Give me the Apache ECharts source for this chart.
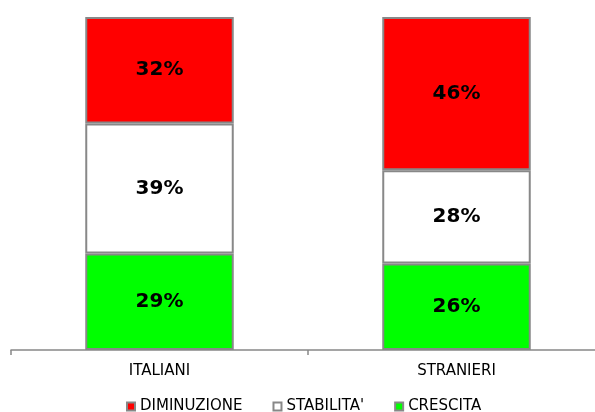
<!DOCTYPE html>
<html>
<head>
<meta charset="utf-8">
<script src="https://cdn.jsdelivr.net/npm/echarts@6/dist/echarts.min.js"></script>
<style>
html,body{margin:0;padding:0;background:#fff;overflow:hidden;width:595px;height:412px;}
#chart{width:606px;height:412px;}
</style>
</head>
<body>
<div id="chart"></div>
<script>
const categories = ['ITALIANI', 'STRANIERI'];
const seriesNames = ['CRESCITA', "STABILITA'", 'DIMINUZIONE'];
const crescita = [29, 26];
const stabilita = [39, 28];
const diminuzione = [32, 46];
const legendOrder = ['DIMINUZIONE', "STABILITA'", 'CRESCITA'];

const colors = {'CRESCITA': '#00FF00', "STABILITA'": '#FFFFFF', 'DIMINUZIONE': '#FF0000'};
const values = {'CRESCITA': crescita, "STABILITA'": stabilita, 'DIMINUZIONE': diminuzione};

const chart = echarts.init(document.getElementById('chart'), null, {renderer: 'canvas'});
chart.setOption({
  animation: false,
  backgroundColor: '#fff',
  grid: {left: 11, right: 1, top: 17, bottom: 62, containLabel: false},
  legend: {
    data: legendOrder,
    left: 126,
    top: 399,
    padding: 0,
    itemWidth: 8,
    itemHeight: 8,
    itemGap: 30,
    icon: 'rect',
    textStyle: {fontFamily: 'DejaVu Sans', fontSize: 15, color: '#000'}
  },
  xAxis: {
    type: 'category',
    data: categories,
    axisLine: {lineStyle: {color: '#888', width: 1.5}},
    axisTick: {show: true, length: 5, lineStyle: {color: '#888', width: 1.5}},
    axisLabel: {fontFamily: 'DejaVu Sans', fontSize: 15, color: '#000', margin: 14}
  },
  yAxis: {type: 'value', min: 0, max: 100, show: false, splitLine: {show: false}},
  series: seriesNames.map(name => ({
    name: name,
    type: 'bar',
    stack: 'total',
    barWidth: '50%',
    data: values[name],
    itemStyle: {color: colors[name], borderColor: '#888', borderWidth: 2},
    label: {
      show: true,
      position: 'inside',
      formatter: '{c}%',
      fontFamily: 'DejaVu Sans',
      fontWeight: 'bold',
      fontSize: 20,
      color: '#000'
    }
  }))
});
</script>
</body>
</html>
